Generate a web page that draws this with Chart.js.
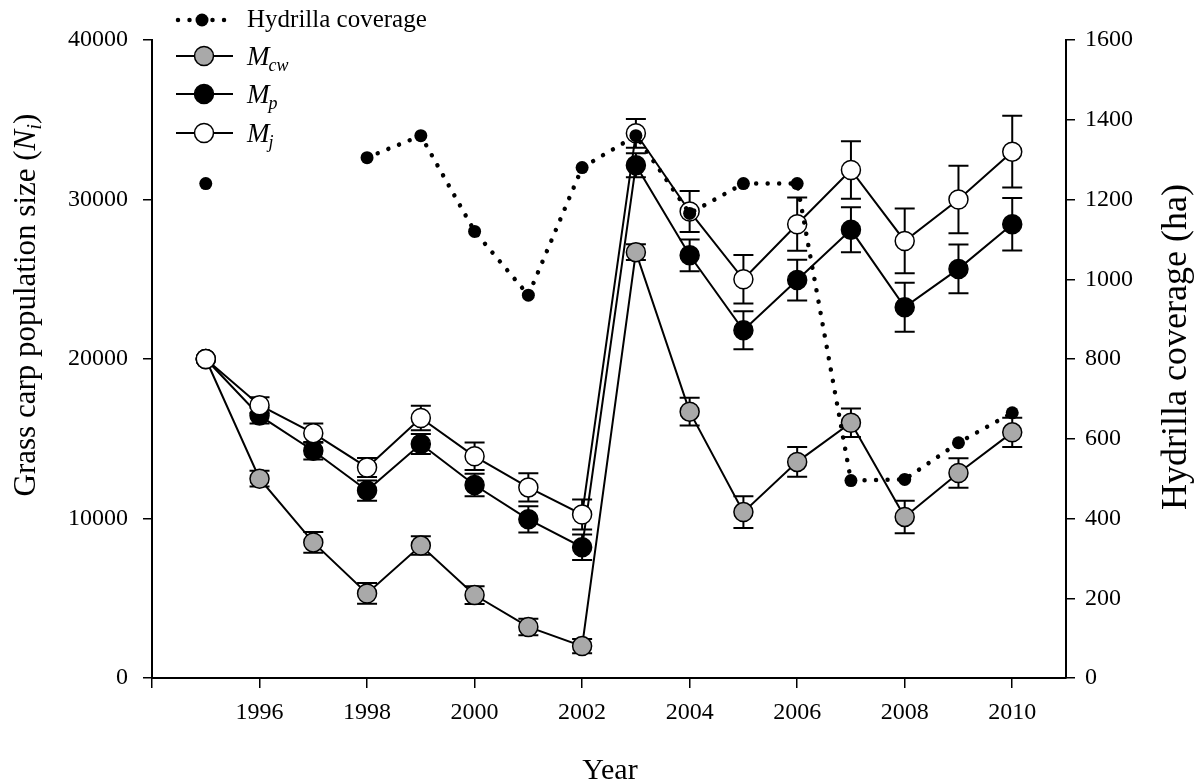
<!DOCTYPE html>
<html>
<head>
<meta charset="utf-8">
<title>Grass carp population size and Hydrilla coverage</title>
<script src="https://cdn.jsdelivr.net/npm/chart.js@4.4.1/dist/chart.umd.min.js"></script>
<style>
    html, body { margin: 0; padding: 0; background: #fff; }
    #chart { display: block; }
</style>
</head>
<body>
<canvas id="chart" width="1194" height="783"></canvas>
<script>
    // Data
    const years = [1995, 1996, 1997, 1998, 1999, 2000, 2001, 2002, 2003, 2004, 2005, 2006, 2007, 2008, 2009, 2010];

    // Grass carp population size (N_i), three estimators, with error bars
    const mcw    = [20000, 12500, 8500, 5300, 8300, 5200, 3200, 2000, 26700, 16700, 10400, 13550, 16000, 10100, 12850, 15400];
    const mcwErr = [0, 500, 650, 650, 580, 560, 520, 450, 500, 870, 1000, 930, 890, 1020, 920, 920];

    const mp     = [20000, 16450, 14250, 11750, 14670, 12100, 9950, 8200, 32150, 26500, 21800, 24950, 28100, 23250, 25650, 28450];
    const mpErr  = [0, 500, 550, 630, 630, 710, 820, 800, 750, 1000, 1190, 1275, 1410, 1535, 1535, 1640];

    const mj     = [20000, 17100, 15350, 13200, 16300, 13900, 11950, 10250, 34150, 29250, 25000, 28450, 31850, 27400, 30000, 33000];
    const mjErr  = [0, 500, 600, 600, 770, 860, 880, 940, 900, 1290, 1515, 1670, 1800, 2030, 2120, 2245];

    // Hydrilla coverage (ha), no survey in 1996-1997
    const hydrilla = [1240, null, null, 1305, 1360, 1120, 960, 1280, 1360, 1165, 1240, 1240, 495, 498, 590, 665];

    const legendNames = ['Hydrilla coverage', 'M', 'M', 'M'];
    const legendSubs  = ['', 'cw', 'p', 'j'];

    const SERIF = "'Liberation Serif', 'Times New Roman', serif";

    function toPoints(values) {
        return years.map((yr, i) => ({ x: yr, y: values[i] }));
    }

    // Error bars, drawn right before each dataset so markers sit on top
    const errorBars = {
        id: 'errorBars',
        beforeDatasetDraw(chart, args) {
            const ds = chart.data.datasets[args.index];
            if (!ds.errors) return;
            const yScale = chart.scales[ds.yAxisID];
            const ctx = chart.ctx;
            ctx.save();
            ctx.strokeStyle = '#000';
            ctx.lineWidth = 2;
            args.meta.data.forEach((pt, i) => {
                const e = ds.errors[i];
                if (!e) return;
                const v = ds.data[i].y;
                const top = yScale.getPixelForValue(v + e);
                const bot = yScale.getPixelForValue(v - e);
                ctx.beginPath();
                ctx.moveTo(pt.x, top);
                ctx.lineTo(pt.x, bot);
                ctx.moveTo(pt.x - 10, top);
                ctx.lineTo(pt.x + 10, top);
                ctx.moveTo(pt.x - 10, bot);
                ctx.lineTo(pt.x + 10, bot);
                ctx.stroke();
            });
            ctx.restore();
        }
    };

    function drawCircle(ctx, x, y, r, fill, border) {
        ctx.beginPath();
        ctx.arc(x, y, r, 0, Math.PI * 2);
        ctx.fillStyle = fill;
        ctx.fill();
        if (border) {
            ctx.lineWidth = 1.5;
            ctx.strokeStyle = '#000';
            ctx.stroke();
        }
    }

    // Draw a run of text pieces with different fonts, centred on 0
    function drawRuns(ctx, runs) {
        let total = 0;
        runs.forEach(r => { ctx.font = r.font; total += ctx.measureText(r.text).width; });
        let x = -total / 2;
        runs.forEach(r => {
            ctx.font = r.font;
            ctx.fillText(r.text, x, r.dy || 0);
            x += ctx.measureText(r.text).width;
        });
    }

    // Axis titles and the legend
    const annotations = {
        id: 'annotations',
        afterDraw(chart) {
            const ctx = chart.ctx;
            ctx.save();
            ctx.fillStyle = '#000';
            ctx.textBaseline = 'alphabetic';
            ctx.textAlign = 'left';

            // left title
            ctx.save();
            ctx.translate(35, 305);
            ctx.rotate(-Math.PI / 2);
            drawRuns(ctx, [
                { text: 'Grass carp population size (', font: '31px ' + SERIF },
                { text: 'N', font: 'italic 31px ' + SERIF },
                { text: 'i', font: 'italic 21px ' + SERIF, dy: 6 },
                { text: ')', font: '31px ' + SERIF }
            ]);
            ctx.restore();

            // right title
            ctx.save();
            ctx.translate(1186, 347);
            ctx.rotate(-Math.PI / 2);
            drawRuns(ctx, [{ text: 'Hydrilla coverage (ha)', font: '36px ' + SERIF }]);
            ctx.restore();

            // x title
            ctx.save();
            ctx.translate(610, 779);
            drawRuns(ctx, [{ text: 'Year', font: '30px ' + SERIF }]);
            ctx.restore();

            // legend
            const rowY = [20, 56, 94, 133];
            const fills = ['#000', '#a9a9a9', '#000', '#fff'];
            const x0 = 176, x1 = 233, xm = 204, tx = 247;
            rowY.forEach((y, i) => {
                ctx.save();
                ctx.strokeStyle = '#000';
                if (i === 0) {
                    ctx.lineWidth = 4.5;
                    ctx.lineCap = 'round';
                    ctx.setLineDash([0.001, 11.5]);
                    ctx.beginPath();
                    ctx.moveTo(x0 + 2, y);
                    ctx.lineTo(x1, y);
                    ctx.stroke();
                    ctx.setLineDash([]);
                    drawCircle(ctx, xm - 2, y, 6.5, '#000', false);
                    ctx.font = '25px ' + SERIF;
                    ctx.fillStyle = '#000';
                    ctx.fillText(legendNames[i], tx, y + 7);
                } else {
                    ctx.lineWidth = 2;
                    ctx.beginPath();
                    ctx.moveTo(x0, y);
                    ctx.lineTo(x1, y);
                    ctx.stroke();
                    drawCircle(ctx, xm, y, 9.5, fills[i], true);
                    ctx.fillStyle = '#000';
                    ctx.font = 'italic 27px ' + SERIF;
                    ctx.fillText(legendNames[i], tx, y + 9);
                    const w = ctx.measureText(legendNames[i]).width;
                    ctx.font = 'italic 18px ' + SERIF;
                    ctx.fillText(legendSubs[i], tx + w - 1, y + 15);
                }
                ctx.restore();
            });
            ctx.restore();
        }
    };

    const axisGrid = { drawOnChartArea: false, color: '#000', lineWidth: 1.5, tickLength: 9 };
    const axisBorder = { color: '#000', width: 2 };
    const tickFont = { family: SERIF, size: 24 };

    new Chart(document.getElementById('chart'), {
        type: 'line',
        data: {
            datasets: [
                {
                    label: 'Hydrilla coverage',
                    data: toPoints(hydrilla),
                    yAxisID: 'y2',
                    borderColor: '#000',
                    borderWidth: 4.5,
                    borderDash: [0.001, 11.5],
                    borderCapStyle: 'round',
                    pointRadius: 6.5,
                    pointBackgroundColor: '#000',
                    pointBorderWidth: 0,
                    spanGaps: false,
                    order: 0
                },
                {
                    label: 'Mj',
                    data: toPoints(mj),
                    errors: mjErr,
                    yAxisID: 'y',
                    borderColor: '#000',
                    borderWidth: 2,
                    pointRadius: 9.5,
                    pointBackgroundColor: '#fff',
                    pointBorderColor: '#000',
                    pointBorderWidth: 1.5,
                    order: 1
                },
                {
                    label: 'Mp',
                    data: toPoints(mp),
                    errors: mpErr,
                    yAxisID: 'y',
                    borderColor: '#000',
                    borderWidth: 2,
                    pointRadius: 9.5,
                    pointBackgroundColor: '#000',
                    pointBorderColor: '#000',
                    pointBorderWidth: 1.5,
                    order: 2
                },
                {
                    label: 'Mcw',
                    data: toPoints(mcw),
                    errors: mcwErr,
                    yAxisID: 'y',
                    borderColor: '#000',
                    borderWidth: 2,
                    pointRadius: 9.5,
                    pointBackgroundColor: '#a9a9a9',
                    pointBorderColor: '#000',
                    pointBorderWidth: 1.5,
                    order: 3
                }
            ]
        },
        options: {
            responsive: false,
            animation: false,
            events: [],
            tension: 0,
            layout: { padding: { top: 40, left: 0, right: 0, bottom: 0 } },
            plugins: {
                legend: { display: false },
                tooltip: { enabled: false },
                title: { display: false }
            },
            scales: {
                x: {
                    type: 'linear',
                    min: 1994,
                    max: 2011,
                    border: axisBorder,
                    grid: Object.assign({}, axisGrid, { tickLength: 10 }),
                    ticks: {
                        stepSize: 2,
                        includeBounds: false,
                        autoSkip: false,
                        maxRotation: 0,
                        padding: 10,
                        color: '#000',
                        font: tickFont,
                        callback: v => (v === 1994 ? '' : String(v))
                    },
                    afterFit: s => { s.height = 105; }
                },
                y: {
                    position: 'left',
                    min: 0,
                    max: 40000,
                    border: axisBorder,
                    grid: axisGrid,
                    ticks: {
                        stepSize: 10000,
                        padding: 15,
                        color: '#000',
                        font: tickFont,
                        callback: v => String(v)
                    },
                    afterFit: s => { s.width = 152; }
                },
                y2: {
                    position: 'right',
                    min: 0,
                    max: 1600,
                    border: axisBorder,
                    grid: axisGrid,
                    ticks: {
                        stepSize: 200,
                        padding: 10,
                        color: '#000',
                        font: tickFont,
                        callback: v => String(v)
                    },
                    afterFit: s => { s.width = 128; }
                }
            }
        },
        plugins: [errorBars, annotations]
    });
</script>
</body>
</html>
